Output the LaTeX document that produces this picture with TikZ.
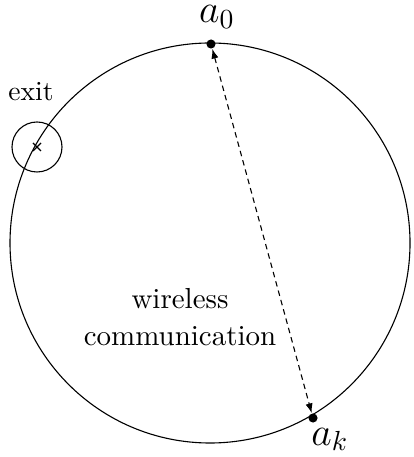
\documentclass[tikz,border=0pt]{standalone}
\usetikzlibrary{arrows.meta,calc}
\begin{document}
\begin{tikzpicture}[x=0.3625pt,y=-0.3625pt,
  agent/.style={circle,fill=black,inner sep=0pt,minimum size=3.3pt},
  lbl/.style={anchor=base,inner sep=0pt,font=\Large},
  link/.style={dashed,dash pattern=on 2pt off 1.5pt,{Latex[length=3.5pt,width=2.6pt]}-{Latex[length=3.5pt,width=2.6pt]}}]
\useasboundingbox (0,0) rectangle (413,457);
% boundary of the region
\coordinate (c) at (210,243);
\draw (c) circle[radius=200];
% exit point with its neighbourhood
\coordinate (ex) at (37,147);
\draw (ex) circle[radius=25];
\draw[line width=0.5pt] ($(ex)+(-4,-4)$) -- ($(ex)+(4,4)$) ($(ex)+(-4,4)$) -- ($(ex)+(4,-4)$);
\node[anchor=base,inner sep=0pt] (exitlbl) at (31,101) {exit};
% agents on the boundary
\node[agent] (a0) at (211,44) {};
\node[agent] (ak) at (313,418) {};
\node[lbl] (a0lbl) at (217,23) {$a_0$};
\node[lbl] (aklbl) at (330,445) {$a_k$};
\draw[link] (a0) -- (ak);
\node[align=center,font=\fontsize{10.5}{13.2}\selectfont] (wl) at (180,317) {wireless\\communication};
\end{tikzpicture}
\end{document}
